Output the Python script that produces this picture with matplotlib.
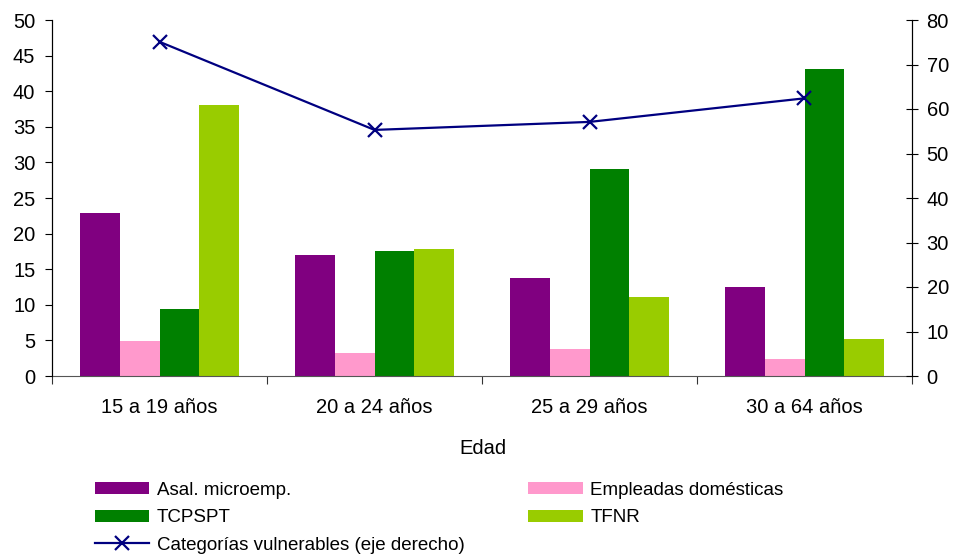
import numpy as np
import matplotlib.pyplot as plt

plt.rcParams['font.family'] = ['Liberation Sans', 'DejaVu Sans']

categories = ['15 a 19 años', '20 a 24 años', '25 a 29 años', '30 a 64 años']
asal_micro = [22.9, 17.0, 13.7, 12.5]
empleadas = [4.9, 3.3, 3.8, 2.4]
tcpspt = [9.4, 17.6, 29.1, 43.1]
tfnr = [38.0, 17.8, 11.1, 5.2]
vulnerables = [75.1, 55.3, 57.1, 62.4]

series = [
    ('Asal. microemp.', asal_micro, '#800080'),
    ('Empleadas domésticas', empleadas, '#FF99CC'),
    ('TCPSPT', tcpspt, '#008000'),
    ('TFNR', tfnr, '#99CC00'),
]

fig = plt.figure(figsize=(9.58, 5.57), dpi=100)
ax = fig.add_axes([52 / 958, 1 - 376 / 557, 860 / 958, 356 / 557])
ax2 = ax.twinx()

x = np.arange(len(categories))
w = 0.186
handles = {}
for i, (name, vals, col) in enumerate(series):
    b = ax.bar(x + (i - 1.5) * w, vals, w, color=col, label=name, zorder=2)
    handles[name] = b

line, = ax2.plot(x, vulnerables, color='#000080', lw=1.6, marker='x',
                 markersize=10, markeredgewidth=1.6,
                 label='Categorías vulnerables (eje derecho)')

ax.set_xlim(-0.5, 3.5)
ax.set_ylim(0, 50)
ax2.set_ylim(0, 80)
ax.set_yticks(np.arange(0, 51, 5))
ax2.set_yticks(np.arange(0, 81, 10))

# category boundaries as ticks, names centred between them
ax.set_xticks(np.arange(-0.5, 4, 1))
ax.set_xticklabels([])
ax.set_xticks(x, minor=True)
ax.set_xticklabels(categories, minor=True)
ax.tick_params(axis='x', which='major', length=6, direction='out', color='#333333')
ax.tick_params(axis='x', which='minor', length=0, pad=16, labelsize=14.5)
ax.tick_params(axis='y', length=5, direction='out', labelsize=14.5, pad=7)
ax2.tick_params(axis='y', length=9, direction='inout', labelsize=14.5, pad=6)

for a in (ax, ax2):
    a.spines['top'].set_visible(False)
ax.spines['bottom'].set_color('#555555')
ax2.spines['bottom'].set_visible(False)

fig.text(483 / 958, 1 - 449 / 557, 'Edad', ha='center', va='center', fontsize=14.5)

leg_handles = [handles['Asal. microemp.'], handles['TCPSPT'], line,
               handles['Empleadas domésticas'], handles['TFNR']]
leg_labels = ['Asal. microemp.', 'TCPSPT', 'Categorías vulnerables (eje derecho)',
              'Empleadas domésticas', 'TFNR']
fig.legend(leg_handles, leg_labels, ncol=2, loc='upper left',
           bbox_to_anchor=(95 / 958, 1 - 482 / 557), frameon=False,
           fontsize=13.5, handlelength=2.9, handleheight=0.6,
           handletextpad=0.4, labelspacing=0.55, columnspacing=3.4,
           borderpad=0, borderaxespad=0)

fig.savefig('out.png', dpi=100)
